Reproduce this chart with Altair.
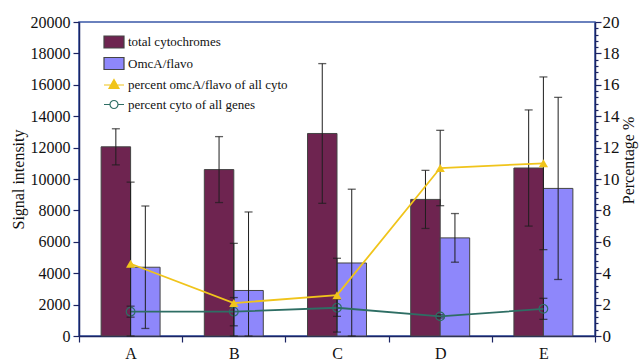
import altair as alt
import pandas as pd

# ---- data ----
categories = ["A", "B", "C", "D", "E"]

total_cyto = [12050, 10600, 12900, 8700, 10700]
total_cyto_err = [1150, 2100, 4450, 1850, 3700]
omca_flavo = [4380, 2900, 4650, 6250, 9400]
omca_flavo_err = [3900, 5000, 4700, 1550, 5800]

pct_omca = [4.6, 2.1, 2.6, 10.7, 11.0]
pct_omca_err = [5.2, 3.8, 2.35, 2.4, 5.5]
pct_cyto = [1.55, 1.55, 1.8, 1.25, 1.73]
pct_cyto_err = [0.35, 0.9, 0.55, 0.1, 0.67]

series_names = [
    "total cytochromes",
    "OmcA/flavo",
    "percent omcA/flavo of all cyto",
    "percent cyto of all genes",
]

# ---- styling ----
FONT = "Liberation Serif"
MAROON = "#6E2450"
PERI = "#8E87FB"
GOLD = "#F0C41B"
TEAL = "#2E6E64"
EDGE = "#444444"
ERR = "#1E1E1E"
NAVY = "#1B2463"
TXT = "#111111"

df_bar = pd.DataFrame({
    "cat": categories * 2,
    "series": [series_names[0]] * 5 + [series_names[1]] * 5,
    "value": total_cyto + omca_flavo,
    "err": total_cyto_err + omca_flavo_err,
})
df_bar["lo"] = (df_bar["value"] - df_bar["err"]).clip(lower=0)
df_bar["hi"] = df_bar["value"] + df_bar["err"]

df_pct = pd.DataFrame({
    "cat": categories * 2,
    "series": [series_names[2]] * 5 + [series_names[3]] * 5,
    "pct": pct_omca + pct_cyto,
    "err": pct_omca_err + pct_cyto_err,
})
df_pct["lo"] = (df_pct["pct"] - df_pct["err"]).clip(lower=0)
df_pct["hi"] = df_pct["pct"] + df_pct["err"]

df_key = pd.DataFrame({"cat": ["A"] * 4, "series": series_names, "pct": [0] * 4})

x_axis = alt.Axis(title=None, labelAngle=0, tickBand="extent", tickSize=6,
                  labelPadding=3, labelFont=FONT, labelFontSize=16, labelColor=TXT,
                  domainColor=NAVY, domainWidth=1.5, tickColor=NAVY, tickWidth=1.2)
x_enc = alt.X("cat:N", scale=alt.Scale(domain=categories, paddingInner=0, paddingOuter=0),
              axis=x_axis)
xoff = alt.XOffset("series:N", scale=alt.Scale(domain=series_names[:2],
                                               paddingInner=0, paddingOuter=0.75))

left_scale = alt.Scale(domain=[0, 20000], nice=False, zero=True)
left_axis = alt.Axis(title="Signal intensity", values=list(range(0, 20001, 2000)),
                     format="d", tickSize=6, labelPadding=3, titlePadding=4,
                     labelFont=FONT, labelFontSize=16, labelColor=TXT,
                     titleFont=FONT, titleFontSize=16, titleFontWeight="normal",
                     titleColor=TXT, domainColor=NAVY, domainWidth=1.5,
                     tickColor=NAVY, tickWidth=1.2, grid=False)

right_ticks = [round(i * 0.4, 1) for i in range(51)]
right_scale = alt.Scale(domain=[0, 20], nice=False, zero=True)
right_axis = alt.Axis(title="Percentage %", orient="right", values=right_ticks,
                      labelExpr="datum.value % 2 === 0 ? '' + datum.value : ''",
                      labelOverlap=False,
                      tickSize={"condition": {"test": "datum.value % 2 === 0", "value": 6},
                                "value": 3},
                      labelPadding=1, titleAngle=270, titleAlign="center",
                      titleBaseline="middle", titleX=33, titleY=138,
                      labelFont=FONT, labelFontSize=17, labelColor=TXT,
                      titleFont=FONT, titleFontSize=16, titleFontWeight="normal",
                      titleColor=TXT, domainColor=NAVY, domainWidth=1.5,
                      tickColor=NAVY, tickWidth=1.2, grid=False)

# ---- signal-intensity bars with error bars ----
bars = alt.Chart(df_bar).mark_bar(stroke=EDGE, strokeWidth=1).encode(
    x=x_enc, xOffset=xoff,
    y=alt.Y("value:Q", scale=left_scale, axis=left_axis),
    fill=alt.condition(alt.datum.series == series_names[0],
                       alt.value(MAROON), alt.value(PERI)),
)
bar_rule = alt.Chart(df_bar).mark_rule(color=ERR, strokeWidth=1).encode(
    x=x_enc, xOffset=xoff,
    y=alt.Y("lo:Q", scale=left_scale, axis=left_axis), y2="hi:Q",
)
bar_cap_hi = alt.Chart(df_bar).mark_tick(color=ERR, size=8, thickness=1.3).encode(
    x=x_enc, xOffset=xoff, y=alt.Y("hi:Q", scale=left_scale, axis=left_axis))
bar_cap_lo = alt.Chart(df_bar).mark_tick(color=ERR, size=8, thickness=1.3).encode(
    x=x_enc, xOffset=xoff, y=alt.Y("lo:Q", scale=left_scale, axis=left_axis))

left = alt.layer(bars, bar_rule, bar_cap_hi, bar_cap_lo)

# ---- legend key (invisible points carrying the legend symbols) ----
key_paths = [
    "M-1,-0.6L1,-0.6L1,0.6L-1,0.6Z",
    "M-1,-0.6L1,-0.6L1,0.6L-1,0.6Z",
    "M-1,0L1,0M0,-0.55L0.5,0.35L-0.5,0.35Z",
    "M-1,0L-0.4,0M0.4,0L1,0M-0.4,0A0.4,0.4,0,1,1,0.4,0A0.4,0.4,0,1,1,-0.4,0Z",
]
key_legend = alt.Legend(title=None)
key = alt.Chart(df_key).mark_point(opacity=0).encode(
    x=x_enc,
    y=alt.Y("pct:Q", scale=right_scale, axis=right_axis),
    shape=alt.Shape("series:N", scale=alt.Scale(domain=series_names, range=key_paths),
                    legend=key_legend),
    fill=alt.Fill("series:N", scale=alt.Scale(domain=series_names,
                                              range=[MAROON, PERI, GOLD, "transparent"]),
                  legend=key_legend),
    stroke=alt.Stroke("series:N", scale=alt.Scale(domain=series_names,
                                                  range=[EDGE, EDGE, GOLD, TEAL]),
                      legend=key_legend),
)

gold = alt.datum.series == series_names[2]
teal = alt.datum.series == series_names[3]

def pct_layers(cond, color, shape, filled, size):
    base = alt.Chart(df_pct).transform_filter(cond)
    line = base.mark_line(color=color, strokeWidth=1.8).encode(
        x=x_enc, y=alt.Y("pct:Q", scale=right_scale, axis=right_axis))
    rule = base.mark_rule(color=ERR, strokeWidth=1).encode(
        x=x_enc, y=alt.Y("lo:Q", scale=right_scale, axis=right_axis), y2="hi:Q")
    cap_hi = base.mark_tick(color=ERR, size=8, thickness=1.3).encode(
        x=x_enc, y=alt.Y("hi:Q", scale=right_scale, axis=right_axis))
    cap_lo = base.mark_tick(color=ERR, size=8, thickness=1.3).encode(
        x=x_enc, y=alt.Y("lo:Q", scale=right_scale, axis=right_axis))
    pts = base.mark_point(shape=shape, filled=filled, size=size,
                          color=color, strokeWidth=1.2, opacity=1).encode(
        x=x_enc, y=alt.Y("pct:Q", scale=right_scale, axis=right_axis))
    return [rule, cap_hi, cap_lo, line, pts]

right = alt.layer(
    key,
    *pct_layers(teal, TEAL, "circle", False, 75),
    *pct_layers(gold, GOLD, "triangle-up", True, 85),
)

chart = alt.layer(left, right).resolve_scale(
    y="independent"
).properties(
    width=516, height=314,
    padding={"left": 79, "top": 22, "right": 44, "bottom": 23},
    autosize=alt.AutoSizeParams(type="none"),
).configure_view(
    stroke="#3A58A8", strokeWidth=1.5,
).configure_legend(
    orient="none", legendX=24, legendY=9, padding=0,
    symbolSize=400, symbolStrokeWidth=1.2, symbolOpacity=1,
    labelFont=FONT, labelFontSize=13, labelColor=TXT,
    labelOffset=3, rowPadding=1.5,
)

chart.save("out.html", embed_options={"renderer": "svg", "actions": False})
